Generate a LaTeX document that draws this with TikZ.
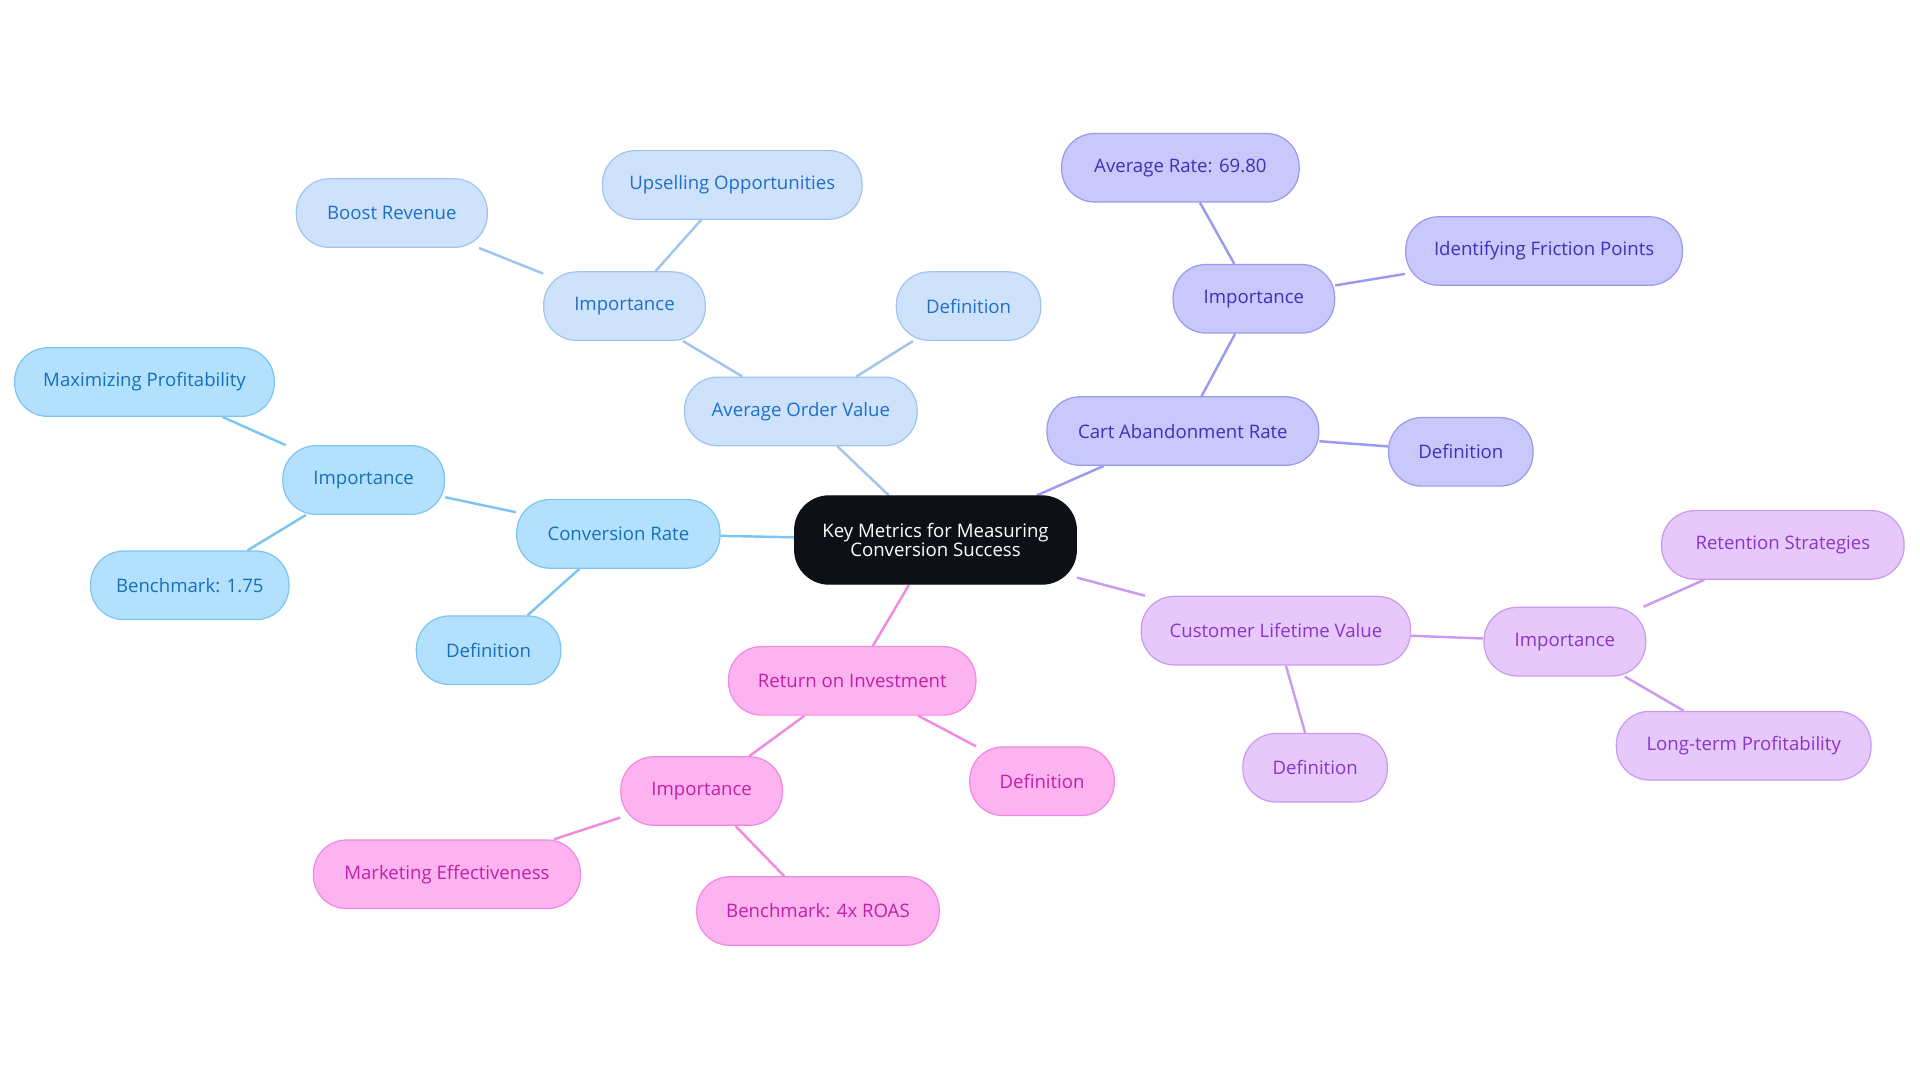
\documentclass[tikz,border=0pt]{standalone}
\usepackage{fontspec}
\setmainfont{Open Sans}
\usetikzlibrary{backgrounds}
\definecolor{af}{HTML}{CFE2FB}\definecolor{ad}{HTML}{A0C4F0}\definecolor{at}{HTML}{1D6FC9}
\definecolor{cf}{HTML}{B3E0FD}\definecolor{cd}{HTML}{7CC4F2}\definecolor{ct}{HTML}{1570B8}
\definecolor{kf}{HTML}{C8C8FB}\definecolor{kd}{HTML}{9A9AF0}\definecolor{kt}{HTML}{3B32B8}
\definecolor{lf}{HTML}{E6C8FB}\definecolor{ld}{HTML}{C99AF0}\definecolor{lt}{HTML}{8A35C9}
\definecolor{rf}{HTML}{FDB3F0}\definecolor{rd}{HTML}{F08AE0}\definecolor{rt}{HTML}{C21FA8}
\definecolor{ctr}{HTML}{0D1117}
\tikzset{
 base/.style={rectangle,rounded corners=13.5pt,minimum height=28pt,inner sep=2pt,font=\fontsize{7.6}{9}\selectfont,line width=0.5pt,align=center},
 A/.style={base,fill=af,draw=ad,text=at},
 C/.style={base,fill=cf,draw=cd,text=ct},
 K/.style={base,fill=kf,draw=kd,text=kt},
 L/.style={base,fill=lf,draw=ld,text=lt},
 R/.style={base,fill=rf,draw=rd,text=rt},
 ea/.style={draw=ad,line width=1pt},
 ec/.style={draw=cd,line width=1pt},
 ek/.style={draw=kd,line width=1pt},
 el/.style={draw=ld,line width=1pt},
 er/.style={draw=rd,line width=1pt},
}
\begin{document}
\begin{tikzpicture}[x=0.5pt,y=-0.5pt]
\useasboundingbox (0,0) rectangle (1568,884);
\node[base,fill=ctr,draw=ctr,text=white,minimum width=115pt,minimum height=36pt,rounded corners=14pt] (c) at (764,441) {Key Metrics for Measuring\\[-1pt]Conversion Success};
\node[A,minimum width=95pt] (aov) at (654,336) {Average Order Value};
\node[A,minimum width=59pt] (aovd) at (791,250) {Definition};
\node[A,minimum width=66pt] (aovi) at (510,250) {Importance};
\node[A,minimum width=106pt] (ups) at (598,151) {Upselling Opportunities};
\node[A,minimum width=78pt] (boo) at (320,174) {Boost Revenue};
\node[C,minimum width=83pt] (cr) at (505,436) {Conversion Rate};
\node[C,minimum width=66pt] (cri) at (297,392) {Importance};
\node[C,minimum width=106pt] (max) at (118,312) {Maximizing Profitability};
\node[C,minimum width=81pt] (crb) at (155,478) {Benchmark: 1.75};
\node[C,minimum width=59pt] (crd) at (399,531) {Definition};
\node[K,minimum width=111pt] (ca) at (966,352) {Cart Abandonment Rate};
\node[K,minimum width=59pt] (cad) at (1193,369) {Definition};
\node[K,minimum width=66pt] (cai) at (1024,244) {Importance};
\node[K,minimum width=97pt] (avg) at (964,137) {Average Rate: 69.80};
\node[K,minimum width=113pt] (idf) at (1261,205) {Identifying Friction Points};
\node[L,minimum width=110pt] (clv) at (1042,515) {Customer Lifetime Value};
\node[L,minimum width=66pt] (clvi) at (1278,524) {Importance};
\node[L,minimum width=99pt] (ret) at (1456,445) {Retention Strategies};
\node[L,minimum width=104pt] (lon) at (1424,609) {Long-term Profitability};
\node[L,minimum width=59pt] (clvd) at (1074,627) {Definition};
\node[R,minimum width=101pt] (roi) at (696,556) {Return on Investment};
\node[R,minimum width=59pt] (roid) at (851,638) {Definition};
\node[R,minimum width=66pt] (roii) at (573,646) {Importance};
\node[R,minimum width=109pt] (mar) at (365,714) {Marketing Effectiveness};
\node[R,minimum width=99pt] (rob) at (668,744) {Benchmark: 4x ROAS};
\begin{scope}[on background layer]
\draw[ea] (c) -- (aov); \draw[ea] (aov) -- (aovd); \draw[ea] (aov) -- (aovi);
\draw[ea] (aovi) -- (ups); \draw[ea] (aovi) -- (boo);
\draw[ec] (c) -- (cr); \draw[ec] (cr) -- (cri); \draw[ec] (cri) -- (max); \draw[ec] (cri) -- (crb); \draw[ec] (cr) -- (crd);
\draw[ek] (c) -- (ca); \draw[ek] (ca) -- (cad); \draw[ek] (ca) -- (cai); \draw[ek] (cai) -- (avg); \draw[ek] (cai) -- (idf);
\draw[el] (c) -- (clv); \draw[el] (clv) -- (clvi); \draw[el] (clvi) -- (ret); \draw[el] (clvi) -- (lon); \draw[el] (clv) -- (clvd);
\draw[er] (c) -- (roi); \draw[er] (roi) -- (roid); \draw[er] (roi) -- (roii); \draw[er] (roii) -- (mar); \draw[er] (roii) -- (rob);
\end{scope}
\end{tikzpicture}
\end{document}
